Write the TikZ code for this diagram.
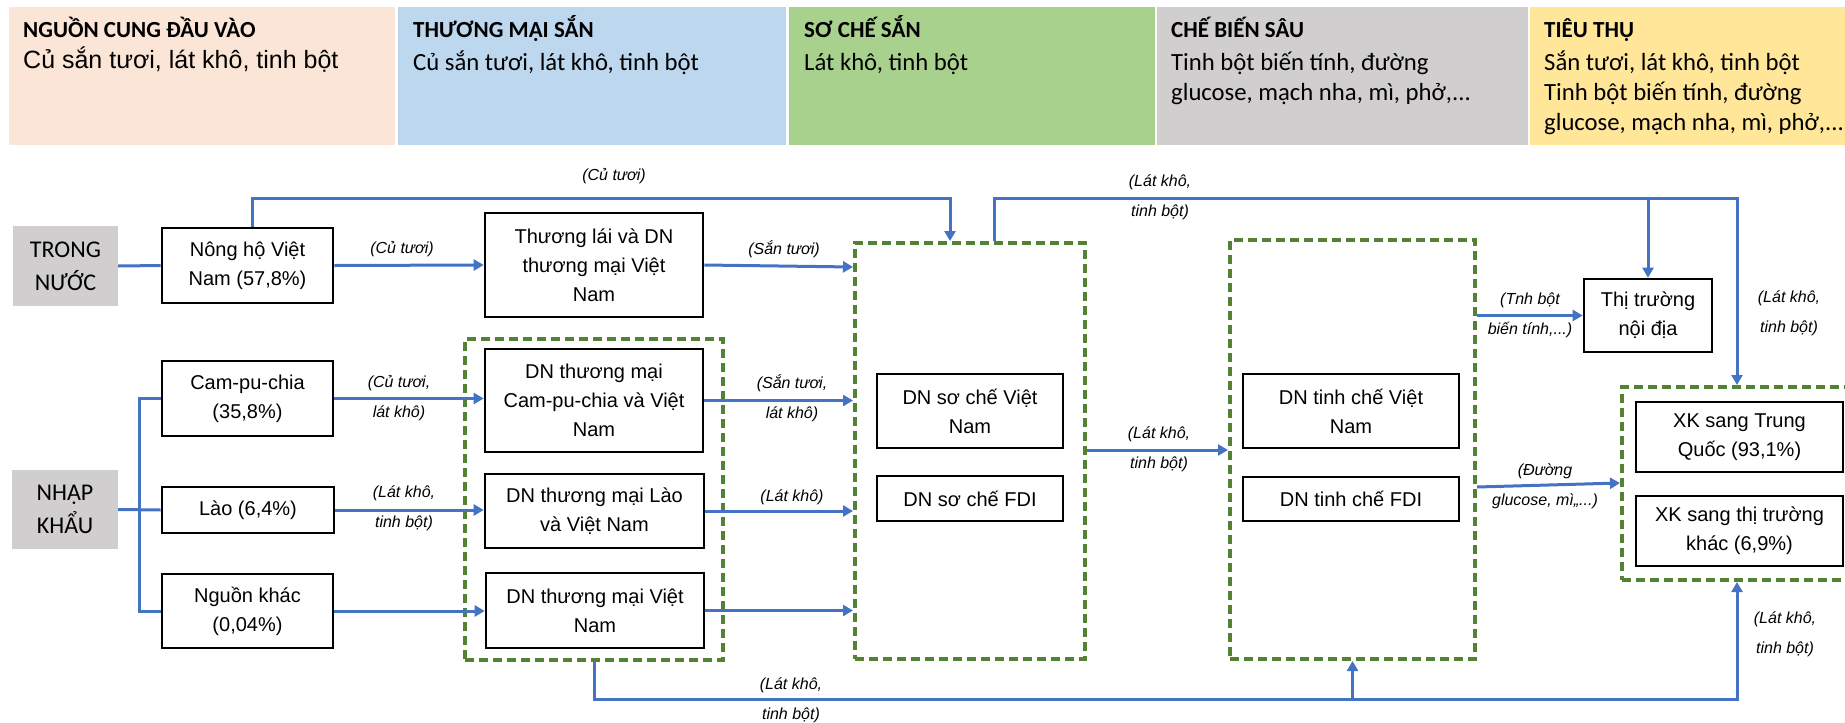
\documentclass[tikz,border=0pt]{standalone}
\usepackage{fontspec}
\setmainfont{Liberation Sans}
\newfontfamily\calfont{Carlito}
\usetikzlibrary{arrows.meta,calc}
\definecolor{peach}{HTML}{FBE5D6}
\definecolor{lightblue}{HTML}{BDD7EE}
\definecolor{lightgreen}{HTML}{A9D18E}
\definecolor{greyc}{HTML}{D0CECE}
\definecolor{yellowc}{HTML}{FFE699}
\definecolor{grn}{HTML}{548235}
\definecolor{lblue}{HTML}{4472C4}
\begin{document}
\begin{tikzpicture}[x=1pt,y=-1pt,
 box/.style={draw=black,line width=2.6pt,fill=white,align=center,inner sep=0pt,font=\fontsize{20}{29}\selectfont},
 greybox/.style={fill=greyc,align=center,inner sep=0pt,font=\calfont\fontsize{24}{33}\selectfont},
 grp/.style={draw=grn,line width=4pt,dash pattern=on 9pt off 5pt,inner sep=0pt},
 lnk/.style={draw=lblue,line width=3pt},
 arr/.style={lnk,-{Triangle[length=10pt,width=11pt]}},
 lbl/.style={align=center,inner sep=0pt,font=\itshape\fontsize{16}{30}\selectfont},
 htitle/.style={anchor=base west,inner sep=0pt,font=\calfont\bfseries\fontsize{23}{28}\selectfont},
 hbody/.style={anchor=base west,inner sep=0pt,font=\calfont\fontsize{24.7}{30}\selectfont},
 hbodyarial/.style={anchor=base west,inner sep=0pt,font=\fontsize{25}{30}\selectfont},
]
\useasboundingbox (0,0) rectangle (1845,723);
% header bands
\fill[peach] (9,7) rectangle (395,145);
\fill[lightblue] (398,7) rectangle (786,145);
\fill[lightgreen] (789,7) rectangle (1155,145);
\fill[greyc] (1157,7) rectangle (1528,145);
\fill[yellowc] (1530,7) rectangle (1845,145);
\node[htitle] (h1t) at (23,37) {NGUỒN CUNG ĐẦU VÀO};
\node[hbodyarial] (h1b) at (23,68) {Củ sắn tươi, lát khô, tinh bột};
\node[htitle] (h2t) at (413,37) {THƯƠNG MẠI SẮN};
\node[hbody] (h2b) at (413,70) {Củ sắn tươi, lát khô, tinh bột};
\node[htitle] (h3t) at (804,37) {SƠ CHẾ SẮN};
\node[hbody] (h3b) at (804,70) {Lát khô, tinh bột};
\node[htitle] (h4t) at (1171,37) {CHẾ BIẾN SÂU};
\node[hbody] (h4b) at (1171,70) {Tinh bột biến tính, đường};
\node[hbody] (h4c) at (1171,100) {glucose, mạch nha, mì, phở,...};
\node[htitle] (h5t) at (1544,37) {TIÊU THỤ};
\node[hbody] (h5b) at (1544,70) {Sắn tươi, lát khô, tinh bột};
\node[hbody] (h5c) at (1544,100) {Tinh bột biến tính, đường};
\node[hbody] (h5d) at (1544,130) {glucose, mạch nha, mì, phở,...};
% grey side labels
\node[greybox,minimum width=105pt,minimum height=80pt] (tn) at (65.5,266) {TRONG\\NƯỚC};
\node[greybox,minimum width=106pt,minimum height=79pt] (nk) at (65,509.5) {NHẬP\\KHẨU};
% dashed groups
\node[grp,minimum width=258pt,minimum height=321pt] (gtm) at (594,499.5) {};
\node[grp,minimum width=230pt,minimum height=416pt] (proc) at (970,451) {};
\node[grp,minimum width=245pt,minimum height=419pt] (deep) at (1352.5,449.5) {};
\node[grp,minimum width=236pt,minimum height=193pt] (expb) at (1740,483.5) {};
% boxes
\node[box,minimum width=171pt,minimum height=75pt] (nong) at (247.5,265.5) {Nông hộ Việt\\Nam (57,8\%)};
\node[box,minimum width=171pt,minimum height=75pt] (cam) at (247.5,398.5) {Cam-pu-chia\\(35,8\%)};
\node[box,minimum width=172pt,minimum height=46pt] (lao) at (248,510) {Lào (6,4\%)};
\node[box,minimum width=171pt,minimum height=74pt] (khac) at (247.5,611) {Nguồn khác\\(0,04\%)};
\node[box,minimum width=218pt,minimum height=104pt] (tl) at (594,265) {Thương lái và DN\\thương mại Việt\\Nam};
\node[box,minimum width=218pt,minimum height=103pt] (tmcam) at (594,400.5) {DN thương mại\\Cam-pu-chia và Việt\\Nam};
\node[box,minimum width=219pt,minimum height=74pt] (tmlao) at (594.5,511) {DN thương mại Lào\\và Việt Nam};
\node[box,minimum width=218pt,minimum height=75pt] (tmvn) at (595,610.5) {DN thương mại Việt\\Nam};
\node[box,minimum width=186pt,minimum height=74pt] (scvn) at (970,411) {DN sơ chế Việt\\Nam};
\node[box,minimum width=186pt,minimum height=45pt] (scfdi) at (970,498.5) {DN sơ chế FDI};
\node[box,minimum width=216pt,minimum height=74pt] (tcvn) at (1351,411) {DN tinh chế Việt\\Nam};
\node[box,minimum width=216pt,minimum height=44pt] (tcfdi) at (1351,499) {DN tinh chế FDI};
\node[box,minimum width=128pt,minimum height=73pt] (tt) at (1648,315.5) {Thị trường\\nội địa};
\node[box,minimum width=207pt,minimum height=70pt] (xktq) at (1739.5,437) {XK sang Trung\\Quốc (93,1\%)};
\node[box,minimum width=207pt,minimum height=70pt] (xkk) at (1739.5,531) {XK sang thị trường\\khác (6,9\%)};
% connectors
\draw[lnk] (tn.east) -- (nong.west);
\coordinate (cA) at (950,198.5);
\draw[arr] ([xshift=4.5pt]nong.north) |- (cA) -- (cA |- proc.north);
\draw[arr] (nong.east) -- (tl.west);
\draw[arr] (tl.east) -- ($(tl.east -| proc.west)+(0,2)$);
\coordinate (vx) at (139,0);
\draw[lnk] (nk.east) -- (lao.west);
\draw[lnk] (cam.west) -- (cam.west -| vx) -- (khac.west -| vx) -- (khac.west);
\draw[arr] (cam.east) -- (cam.east -| tmcam.west);
\draw[arr] (lao.east) -- (lao.east -| tmlao.west);
\draw[arr] (khac.east) -- (khac.east -| tmvn.west);
\draw[arr] (tmcam.east) -- (tmcam.east -| proc.west);
\draw[arr] (tmlao.east) -- (tmlao.east -| proc.west);
\draw[arr] (tmvn.east) -- (tmvn.east -| proc.west);
\coordinate (pd) at (0,450);
\draw[arr] (proc.east |- pd) -- (deep.west |- pd);
\draw[arr] (deep.east |- tt.west) -- (tt.west);
\coordinate (de1) at (0,487);
\coordinate (de2) at (0,483);
\draw[arr] (deep.east |- de1) -- (expb.west |- de2);
\coordinate (topR) at (1737,198);
\draw[arr] ([xshift=24pt]proc.north) |- (topR) -- (topR |- expb.north);
\draw[arr] (tt.north |- topR) -- (tt.north);
\coordinate (botR) at (1737,699);
\draw[arr] (gtm.south) |- (botR) -- (botR |- expb.south);
\draw[arr] (deep.south |- botR) -- (deep.south);
% labels
\node[lbl] (l1) at (614,176) {(Củ tươi)};
\node[lbl] (l2) at (1160,197) {(Lát khô,\\tinh bột)};
\node[lbl] (l3) at (402,249) {(Củ tươi)};
\node[lbl] (l4) at (784,249) {(Sắn tươi)};
\node[lbl] (l5) at (399,398) {(Củ tươi,\\lát khô)};
\node[lbl] (l6) at (792,398) {(Sắn tươi,\\lát khô)};
\node[lbl] (l7) at (404,508) {(Lát khô,\\tinh bột)};
\node[lbl] (l8) at (792,497) {(Lát khô)};
\node[lbl] (l9) at (1159,449.5) {(Lát khô,\\tinh bột)};
\node[lbl] (l10) at (1530,315.5) {(Tnh bột\\biến tính,...)};
\node[lbl] (l11) at (1545,486) {(Đường\\glucose, mì,,...)};
\node[lbl] (l12) at (1789,313) {(Lát khô,\\tinh bột)};
\node[lbl] (l13) at (1785,634) {(Lát khô,\\tinh bột)};
\node[lbl] (l14) at (791,700) {(Lát khô,\\tinh bột)};
\end{tikzpicture}
\end{document}
